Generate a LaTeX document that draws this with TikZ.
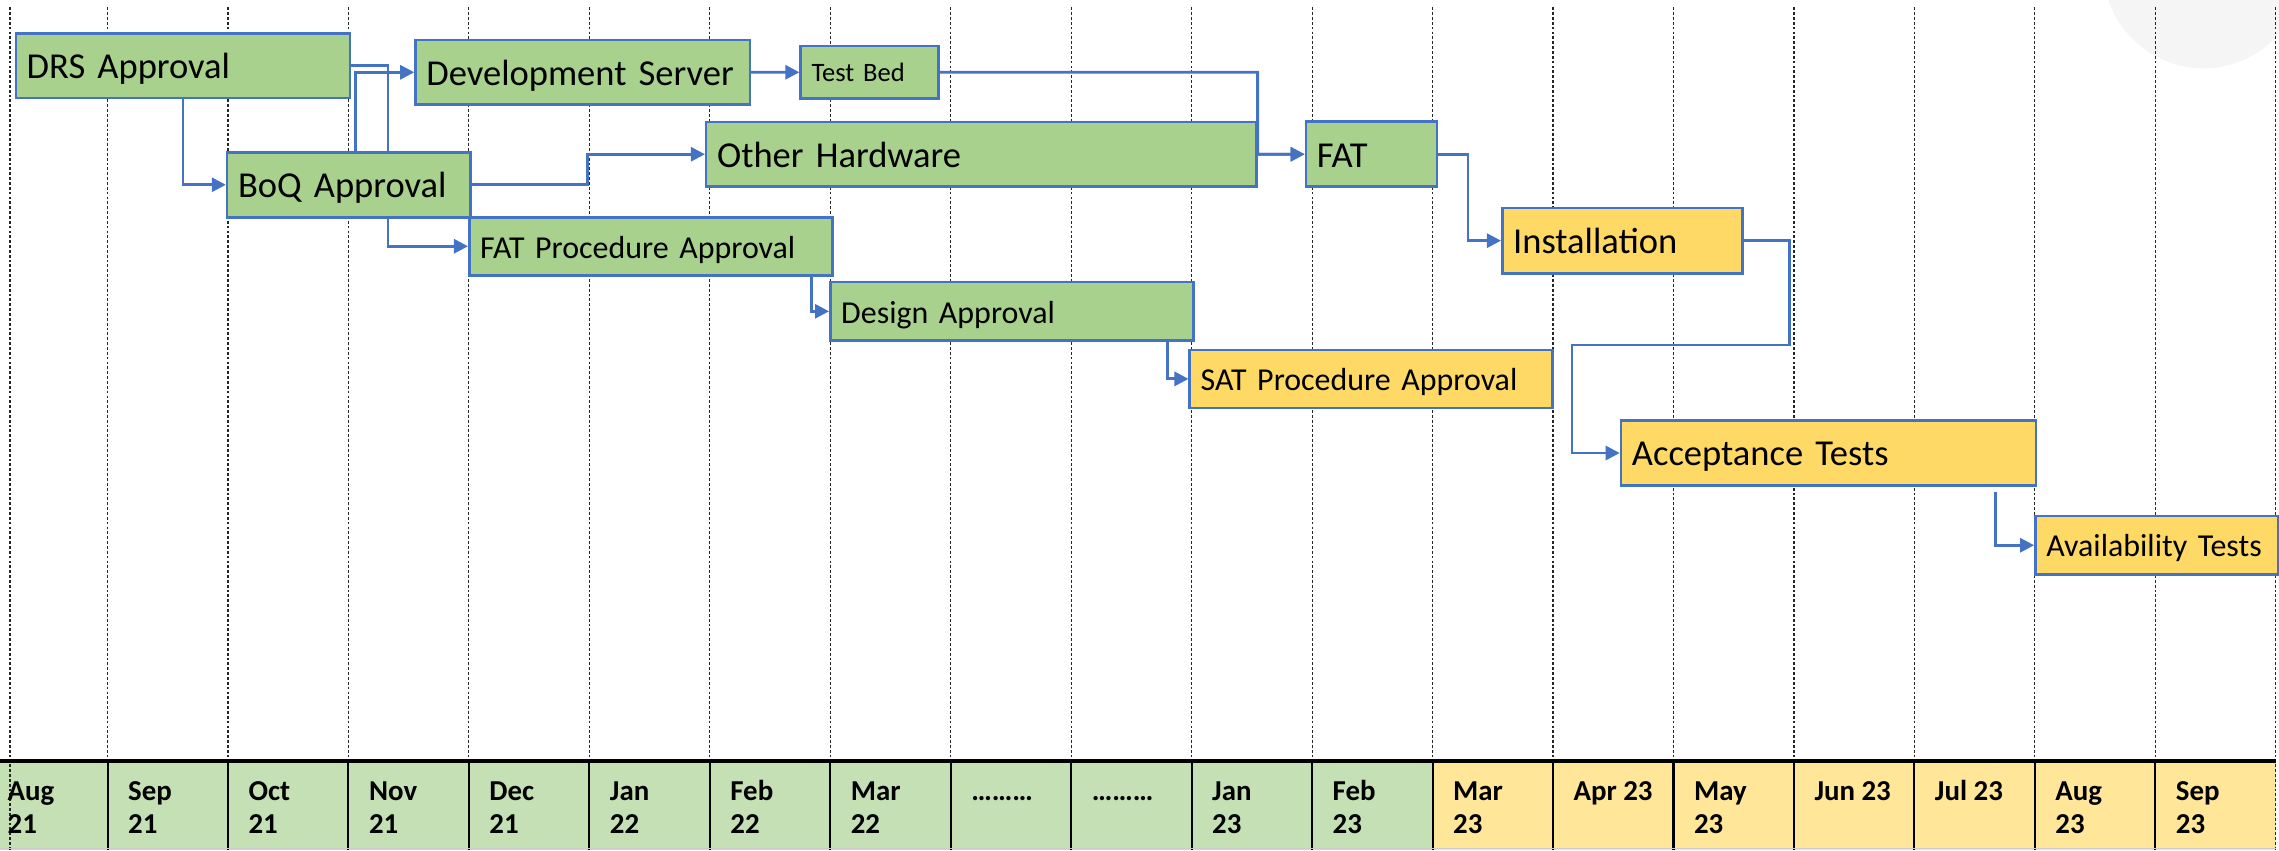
\documentclass[tikz,border=0pt]{standalone}
\usepackage{fontspec}
\setmainfont{Carlito}
\usepackage{tikz}
\usetikzlibrary{arrows.meta}
\usetikzlibrary{backgrounds}

\definecolor{taskblue}{HTML}{4472C4}
\definecolor{taskgreen}{HTML}{A9D18E}
\definecolor{taskyellow}{HTML}{FFD966}
\definecolor{rowgreen}{HTML}{C5E0B4}
\definecolor{rowyellow}{HTML}{FFE699}

\tikzset{
    task/.style={draw=taskblue, line width=1pt, anchor=north west, inner xsep=0.15cm, inner ysep=0pt, align=left},
    greentask/.style={task, fill=taskgreen},
    yellowtask/.style={task, fill=taskyellow},
    biglabel/.style={font=\fontsize{14.3pt}{17pt}\selectfont, text height=12pt, text depth=2pt},
    midlabel/.style={font=\fontsize{12.5pt}{15pt}\selectfont, text height=11pt, text depth=1.8pt},
    smalllabel/.style={font=\fontsize{10.4pt}{12pt}\selectfont, text height=9pt, text depth=2pt},
    link/.style={draw=taskblue, line width=1.1pt, -{Triangle[length=5.5pt, width=5.5pt]}},
    gridline/.style={black!85, line width=0.45pt, dash pattern=on 1.1pt off 0.8pt},
    month/.style={anchor=north west, inner sep=0pt, align=left, font=\fontsize{11.3pt}{13pt}\selectfont\bfseries}
}

\begin{document}
\begin{tikzpicture}[x=0.2mm, y=-0.2mm]
    \useasboundingbox (0,0) rectangle (1568,585);

    \node[greentask, biglabel, text width=4.30cm, minimum height=0.886cm] (drs) at (10,22.2) {DRS Approval};
    \node[greentask, biglabel, text width=4.30cm, minimum height=0.890cm] (dev) at (285,26.6) {Development Server};
    \node[greentask, smalllabel, text width=1.60cm, minimum height=0.726cm] (bed) at (550,30.7) {Test Bed};
    \node[greentask, biglabel, text width=3.048cm, minimum height=0.894cm] (boq) at (155.4,103.9) {BoQ Approval};
    \node[greentask, biglabel, text width=7.27cm, minimum height=0.890cm] (hardware) at (485,83) {Other Hardware};
    \node[greentask, biglabel, text width=1.504cm, minimum height=0.894cm] (fat) at (897.6,82.9) {FAT};
    \node[greentask, midlabel, text width=4.694cm, minimum height=0.798cm] (fatproc) at (322,148.6) {FAT Procedure Approval};
    \node[greentask, midlabel, text width=4.696cm, minimum height=0.808cm] (design) at (570.4,193.1) {Design Approval};
    \node[yellowtask, midlabel, text width=4.694cm, minimum height=0.796cm] (satproc) at (817.7,239.9) {SAT Procedure Approval};
    \node[yellowtask, biglabel, text width=3.002cm, minimum height=0.900cm] (install) at (1032.7,142.2) {Installation};
    \node[yellowtask, biglabel, text width=5.408cm, minimum height=0.900cm] (accept) at (1114.4,288.3) {Acceptance Tests};
    \node[yellowtask, midlabel, text width=3.046cm, minimum height=0.810cm] (avail) at (1399.5,354) {Availability Tests};

    \foreach \k/\txt in {0/{Aug\\21}, 1/{Sep\\21}, 2/{Oct\\21}, 3/{Nov\\21}, 4/{Dec\\21}, 5/{Jan\\22}, 6/{Feb\\22}, 7/{Mar\\22}, 8/{………}, 9/{………}, 10/{Jan\\23}, 11/{Feb\\23}, 12/{Mar\\23}, 13/{Apr 23}, 14/{May\\23}, 15/{Jun 23}, 16/{Jul 23}, 17/{Aug\\23}, 18/{Sep\\23}}
        \node[month] (month\k) at ({-8.875+82.875*\k+13.8},534.4) {\strut\txt};

    \begin{scope}[on background layer]
        \fill[black!4] (1516,-22) circle[radius=1.38cm];

        \foreach \k in {0,...,11}
            \fill[rowgreen] ({-8.875+82.875*\k},523.6) rectangle +(82.875,61.4);
        \foreach \k in {12,...,18}
            \fill[rowyellow] ({-8.875+82.875*\k},523.6) rectangle +(82.875,61.4);

        \draw[gridline] (6.9,5) -- (6.9,585);
        \foreach \k in {1,...,19}
            \draw[gridline] ({-8.875+82.875*\k},5) -- +(0,580);
        \foreach \k in {1,...,18}
            \draw[line width=0.8pt] ({-8.875+82.875*\k},523.6) -- +(0,61.4);
        \draw[line width=1.3pt] (0,523.6) -- (1565.75,523.6);
        \draw[black!20, line width=0.5pt] (0,584) -- (1565.75,584);

        \draw[link] (drs.south) |- (boq.west);
        \draw[link] (drs.east) -| (267,100) |- (fatproc.west);
        \draw[link] ([xshift=0.094cm]boq.north) |- (dev.west);
        \draw[link] (dev.east) -- (bed.west);
        \draw[link] (bed.east) -| (hardware.east) -- (fat.west);
        \draw[link] (hardware.east) -- (fat.west);
        \draw[link] (boq.east) -| (404.2,115) |- (hardware.west);
        \draw[link] ([xshift=-0.3cm]fatproc.south east) |- (design.west);
        \draw[link] ([xshift=-0.372cm]design.south east) |- (satproc.west);
        \draw[link] (fat.east) -| (1010,140) |- (install.west);
        \draw[link] (install.east) -| (1231,237.4) -- (1081.6,237.4) |- (accept.west);
        \draw[link] ([xshift=-0.576cm, yshift=-0.074cm]accept.south east) |- (avail.west);
    \end{scope}
\end{tikzpicture}
\end{document}
